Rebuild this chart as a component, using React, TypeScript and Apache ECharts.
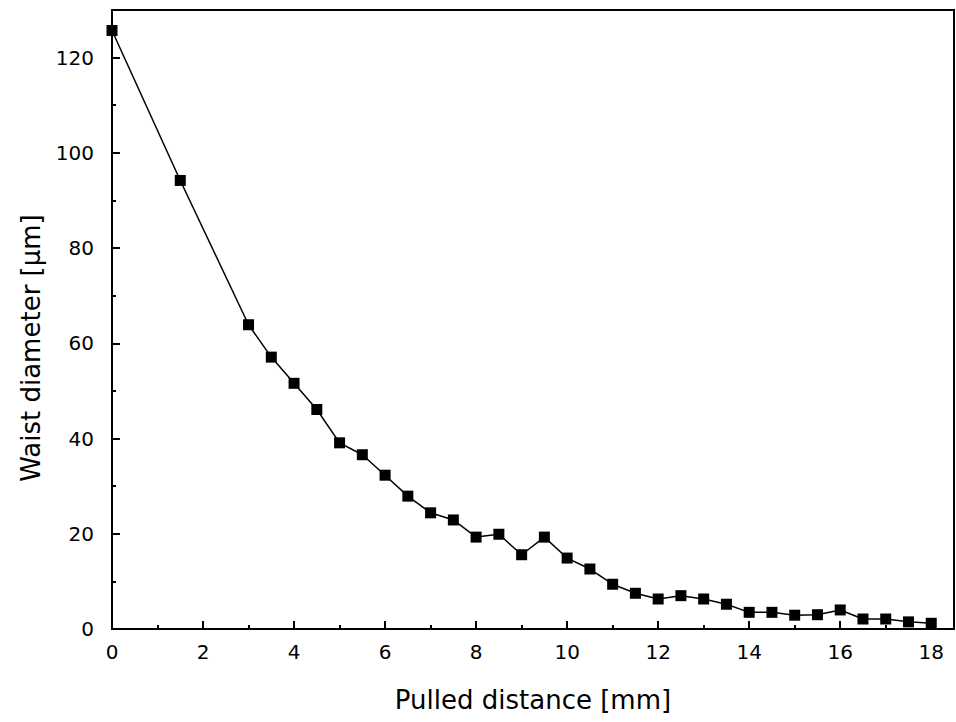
import React, { useEffect, useRef } from "react";
import * as echarts from "echarts";

const pulledDistance = [0, 1.5, 3, 3.5, 4, 4.5, 5, 5.5, 6, 6.5, 7, 7.5, 8, 8.5, 9, 9.5, 10, 10.5, 11, 11.5, 12, 12.5, 13, 13.5, 14, 14.5, 15, 15.5, 16, 16.5, 17, 17.5, 18];
const waistDiameter = [125.7, 94.2, 63.9, 57.1, 51.6, 46.1, 39.1, 36.6, 32.3, 27.9, 24.4, 22.9, 19.3, 19.9, 15.6, 19.3, 14.9, 12.6, 9.4, 7.5, 6.3, 7.0, 6.3, 5.2, 3.5, 3.5, 2.9, 3.0, 4.0, 2.1, 2.1, 1.5, 1.2];
const xMajorTicks = [0, 2, 4, 6, 8, 10, 12, 14, 16, 18];
const xMinorTicks = [1, 3, 5, 7, 9, 11, 13, 15, 17];
const yMajorTicks = [0, 20, 40, 60, 80, 100, 120];
const yMinorTicks = [10, 30, 50, 70, 90, 110];
const xTitle = "Pulled distance [mm]";
const yTitle = "Waist diameter [µm]";

const FONT = "DejaVu Sans";

export default function App() {
  const ref = useRef<HTMLDivElement>(null);
  useEffect(() => {
    if (!ref.current) return;
    const chart = echarts.init(ref.current, null, { renderer: "svg" });
    const X_MAX = 18.5;
    const Y_MAX = 130;
    const baseX = {
      type: "value",
      min: 0,
      max: X_MAX,
      gridIndex: 0,
      splitLine: { show: false },
    };
    const baseY = {
      type: "value",
      min: 0,
      max: Y_MAX,
      gridIndex: 0,
      splitLine: { show: false },
    };
    chart.setOption({
      animation: false,
      backgroundColor: "#ffffff",
      grid: {
        left: 112,
        top: 10,
        right: 2,
        bottom: 93,
        show: true,
        borderColor: "#000",
        borderWidth: 2,
        backgroundColor: "transparent",
      },
      xAxis: [
        {
          ...baseX,
          position: "bottom",
          axisLine: { show: true, lineStyle: { color: "#000", width: 2 } },
          axisTick: {
            show: true,
            inside: true,
            length: 8,
            customValues: xMajorTicks,
            lineStyle: { color: "#000", width: 2 },
          },
          axisLabel: {
            show: true,
            customValues: xMajorTicks,
            margin: 13,
            color: "#000",
            fontFamily: FONT,
            fontSize: 20,
          },
          name: xTitle,
          nameLocation: "middle",
          nameGap: 58,
          nameTextStyle: { color: "#000", fontFamily: FONT, fontSize: 26 },
        },
        {
          ...baseX,
          position: "bottom",
          axisLine: { show: false },
          axisTick: {
            show: true,
            inside: true,
            length: 4,
            customValues: xMinorTicks,
            lineStyle: { color: "#000", width: 2 },
          },
          axisLabel: { show: false },
        },
      ],
      yAxis: [
        {
          ...baseY,
          position: "left",
          axisLine: { show: true, lineStyle: { color: "#000", width: 2 } },
          axisTick: {
            show: true,
            inside: true,
            length: 8,
            customValues: yMajorTicks,
            lineStyle: { color: "#000", width: 2 },
          },
          axisLabel: {
            show: true,
            customValues: yMajorTicks,
            margin: 18,
            color: "#000",
            fontFamily: FONT,
            fontSize: 20,
          },
        },
        {
          ...baseY,
          position: "left",
          axisLine: { show: false },
          axisTick: {
            show: true,
            inside: true,
            length: 4,
            customValues: yMinorTicks,
            lineStyle: { color: "#000", width: 2 },
          },
          axisLabel: { show: false },
        },
      ],
      graphic: [
        {
          type: "text",
          x: 31,
          y: 348,
          rotation: Math.PI / 2,
          style: {
            text: yTitle,
            fill: "#000",
            fontFamily: FONT,
            fontSize: 26,
            align: "center",
            verticalAlign: "middle",
          },
        },
      ],
      series: [
        {
          type: "line",
          xAxisIndex: 0,
          yAxisIndex: 0,
          data: pulledDistance.map((x, i) => [x, waistDiameter[i]]),
          symbol: "rect",
          symbolSize: 11,
          showAllSymbol: true,
          clip: false,
          lineStyle: { color: "#000", width: 1.5 },
          itemStyle: { color: "#000" },
        },
      ],
    });
    return () => chart.dispose();
  }, []);
  return (
    <div
      ref={ref}
      style={{ position: "fixed", left: 0, top: 0, width: 956, height: 722 }}
    />
  );
}
